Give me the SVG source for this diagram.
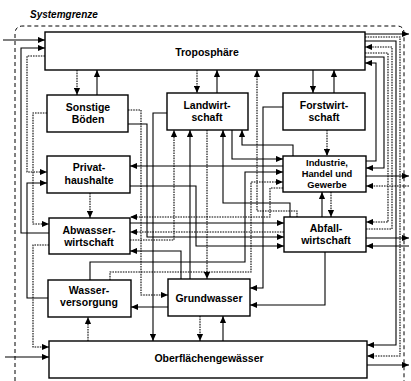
<svg xmlns="http://www.w3.org/2000/svg" width="411" height="381" viewBox="0 0 411 381">
<defs>
<marker id="a" viewBox="0 0 8 8" refX="8" refY="4" markerWidth="7" markerHeight="7" markerUnits="userSpaceOnUse" orient="auto"><path d="M0,0.5L8,4L0,7.5z" fill="#000"/></marker>
<style>
.n rect{fill:#fff;stroke:#000;stroke-width:1.4}
.n text{font-family:"Liberation Sans",Arial,sans-serif;font-weight:bold;font-size:10.5px;text-anchor:middle;fill:#000}
.n text.s{font-size:9.3px}
#conn path{fill:none;stroke:#000;stroke-width:1.1;marker-end:url(#a)}
#conn path.d{stroke-dasharray:1.6 1}
.b{fill:none;stroke:#000;stroke-width:1;stroke-dasharray:4 3}
.lbl{font-family:"Liberation Sans",Arial,sans-serif;font-weight:bold;font-style:italic;font-size:10px;fill:#000}
</style>
</defs>
<rect width="411" height="381" fill="#fff"/>
<g id="boundary">
<path class="b" d="M15,381 V34 Q15,26 23,26 H397 Q404,26 404,33 V381"/>
<text class="lbl" x="30" y="18">Systemgrenze</text>
</g>
<g id="troposphaere" class="n"><rect x="45" y="32" width="320" height="38"/><text x="207" y="56">Troposphäre</text></g>
<g id="boeden" class="n"><rect x="47" y="95" width="81" height="37"/><text x="88" y="111">Sonstige</text><text x="88" y="123">Böden</text></g>
<g id="landwirtschaft" class="n"><rect x="167" y="93" width="81" height="37"/><text x="207" y="109">Landwirt-</text><text x="207" y="121">schaft</text></g>
<g id="forstwirtschaft" class="n"><rect x="283" y="93" width="82" height="37"/><text x="324" y="109">Forstwirt-</text><text x="324" y="121">schaft</text></g>
<g id="privathaushalte" class="n"><rect x="47" y="156" width="83" height="37"/><text x="89" y="171">Privat-</text><text x="89" y="184">haushalte</text></g>
<g id="industrie" class="n"><rect x="283" y="156" width="83" height="36"/><text class="s" x="327" y="165.5">Industrie,</text><text class="s" x="327" y="176.5">Handel und</text><text class="s" x="327" y="187.5">Gewerbe</text></g>
<g id="abwasser" class="n"><rect x="49" y="218" width="81" height="36"/><text x="89" y="234">Abwasser-</text><text x="89" y="246">wirtschaft</text></g>
<g id="abfall" class="n"><rect x="284" y="217" width="82" height="35"/><text x="326" y="232">Abfall-</text><text x="326" y="244">wirtschaft</text></g>
<g id="wasserversorgung" class="n"><rect x="48" y="280" width="83" height="37"/><text x="89" y="294">Wasser-</text><text x="89" y="306">versorgung</text></g>
<g id="grundwasser" class="n"><rect x="168" y="279" width="82" height="37"/><text x="209" y="302">Grundwasser</text></g>
<g id="oberflaeche" class="n"><rect x="49" y="341" width="318" height="37"/><text x="209" y="362">Oberflächengewässer</text></g>
<g id="conn">
<path d="M3,40 H45"/>
<path d="M49,233 H21 V48 H45"/>
<path class="d" d="M45,56 H27 V172 H47"/>
<path d="M48,298 H27 V183 H47"/>
<path class="d" d="M47,113 H33 V224 H49"/>
<path class="d" d="M49,245 H33 V347 H49"/>
<path d="M5,357 H49"/>
<path class="d" d="M77,70 V95"/>
<path d="M97,95 V70"/>
<path class="d" d="M197,70 V93"/>
<path d="M217,93 V70"/>
<path d="M313,70 V93"/>
<path d="M334,93 V70"/>
<path class="d" d="M297,217 V211 H257 V70"/>
<path class="d" d="M130,240 H174 V130"/>
<path d="M190,279 V130"/>
<path class="d" d="M207,130 V279"/>
<path d="M290,217 V203 H223 V130"/>
<path d="M232,130 V159 H283"/>
<path d="M293,156 V145 H242 V130"/>
<path d="M167,113 H153 V341"/>
<path class="d" d="M128,110 H141 V295 H168"/>
<path d="M128,124 H147 V237 H284"/>
<path class="d" d="M90,193 V218"/>
<path d="M283,166 H130"/>
<path d="M130,186 H196 V246 H284"/>
<path class="d" d="M327,130 V156"/>
<path d="M322,217 V192"/>
<path class="d" d="M331,192 V217"/>
<path d="M90,280 V262 H245 V172 H283"/>
<path class="d" d="M110,280 V272 H251 V182 H283"/>
<path d="M283,107 H263 V288 H250"/>
<path class="d" d="M283,188 H270 V217 H130"/>
<path d="M130,223 H284"/>
<path class="d" d="M284,232 H130"/>
<path d="M181,279 V251 H130"/>
<path d="M325,252 V305 H250"/>
<path d="M168,307 H131"/>
<path class="d" d="M200,316 V341"/>
<path d="M223,341 V316"/>
<path class="d" d="M88,341 V317"/>
<path d="M365,34 H409"/>
<path d="M366,176 H409"/>
<path class="d" d="M409,186 H366"/>
<path d="M366,238 H409"/>
<path d="M409,246 H366"/>
<path d="M367,365 H409"/>
<path d="M366,161 H376 V63 H365"/>
<path class="d" d="M366,229 H392 V47 H365"/>
<path d="M365,57 H384 V168 H366"/>
<path class="d" d="M365,53 H388 V222 H366"/>
<path d="M365,41 H396 V345 H367"/>
<path class="d" d="M365,37 H400 V356 H367"/>
</g>
</svg>
